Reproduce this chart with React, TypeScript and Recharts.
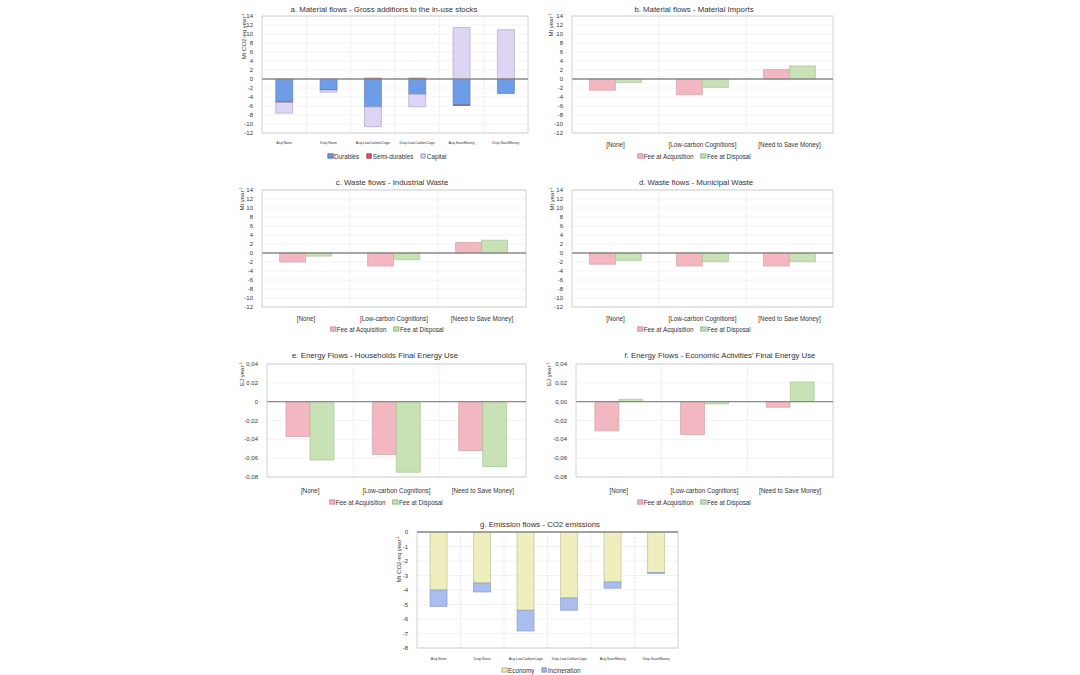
import React from 'react';
import { BarChart, Bar, XAxis, YAxis, CartesianGrid, ReferenceLine } from 'recharts';

const FONT = '"Liberation Sans", Arial, Helvetica, sans-serif';

// ---------- data ----------
const stockCategories = ['Acq.None', 'Disp.None', 'Acq.LowCarbonCogn', 'Disp.LowCarbonCogn', 'Acq.SaveMoney', 'Disp.SaveMoney'];
const durables = [-5.1, -2.4, -6.2, -3.4, -5.8, -3.25];
const semiDurables = [-0.1, -0.05, 0.2, 0.2, -0.05, 0.05];
const capital = [-2.4, -0.5, -4.4, -2.8, 11.45, 10.9];

const feeCategories = ['[None]', '[Low-carbon Cognitions]', '[Need to Save Money]'];
const importsAcq = [-2.5, -3.5, 2.1];
const importsDisp = [-0.8, -1.85, 2.9];
const industrialAcq = [-2.0, -2.9, 2.35];
const industrialDisp = [-0.7, -1.5, 2.85];
const municipalAcq = [-2.5, -2.9, -2.9];
const municipalDisp = [-1.65, -1.95, -1.95];
const householdAcq = [-0.037, -0.056, -0.052];
const householdDisp = [-0.062, -0.075, -0.069];
const economicAcq = [-0.031, -0.035, -0.006];
const economicDisp = [0.0025, -0.0025, 0.021];

const emissionCategories = stockCategories;
const economy = [-4.0, -3.52, -5.4, -4.55, -3.45, -2.8];
const incineration = [-1.13, -0.62, -1.43, -0.85, -0.43, -0.07];

const massTicks = [14, 12, 10, 8, 6, 4, 2, 0, -2, -4, -6, -8, -10, -12];
const energyTicks = [0.04, 0.02, 0, -0.02, -0.04, -0.06, -0.08];
const emissionTicks = [0, -1, -2, -3, -4, -5, -6, -7, -8];

// ---------- styles ----------
const C = {
  durables: { fill: '#6e9de8', stroke: '#5577b5' },
  semi: { fill: '#e0566a', stroke: '#b04050' },
  capital: { fill: '#ddd5f3', stroke: '#a79eb9' },
  acq: { fill: '#f3b7c1', stroke: '#c99aa2' },
  disp: { fill: '#c8e2b6', stroke: '#9dbd8c' },
  economy: { fill: '#efefbd', stroke: '#b3b393' },
  incin: { fill: '#a9bdef', stroke: '#8193c2' },
};

type Series = { key: string; name: string; values: number[]; fill: string; stroke: string };
type Rect = { left: number; top: number; right: number; bottom: number };

type PanelProps = {
  title: string;
  titleX: number;
  titleY: number;
  categories: string[];
  series: Series[];
  stacked?: boolean;
  plot: Rect;
  ticks: number[];
  tickFmt?: (v: number) => string;
  yLabel: string;
  yLabelX: number;
  yLabelTop: number;
  catFont: number;
  catMargin: number;
  gap: string;
  legendX: number;
  legendY: number;
};

const commaFmt = (digits: number, zeroPlain: boolean) => (v: number) => {
  if (Math.abs(v) < 1e-9) return zeroPlain ? '0' : (0).toFixed(digits).replace('.', ',');
  return v.toFixed(digits).replace('.', ',');
};

function Panel(p: PanelProps) {
  const mTop = 8;
  const mRight = 6;
  const xH = 18;
  const yAxisW = p.plot.left - p.yLabelX + 6;
  const plotW = p.plot.right - p.plot.left;
  const plotH = p.plot.bottom - p.plot.top;
  const width = yAxisW + plotW + mRight;
  const height = mTop + plotH + xH;
  const chartLeft = p.plot.left - yAxisW;
  const chartTop = p.plot.top - mTop;
  const n = p.categories.length;

  const data = p.categories.map((c, i) => {
    const row: Record<string, any> = { cat: c };
    p.series.forEach((s) => (row[s.key] = s.values[i]));
    return row;
  });

  const lx = p.yLabelX - chartLeft + 2;
  const ly = p.yLabelTop - chartTop;

  const yLabelContent = () => (
    <text
      x={lx}
      y={ly}
      transform={`rotate(-90, ${lx}, ${ly})`}
      textAnchor="end"
      fontSize={6}
      fill="#333"
      fontFamily={FONT}
    >
      {p.yLabel}
      <tspan fontSize={4} dy={-2.5}>-1</tspan>
    </text>
  );

  return (
    <>
      <div
        style={{
          position: 'absolute',
          left: p.titleX,
          top: p.titleY,
          transform: 'translate(-50%, -50%)',
          fontSize: 7.8,
          whiteSpace: 'nowrap',
          color: '#333',
          fontFamily: FONT,
        }}
      >
        {p.title}
      </div>
      <div style={{ position: 'absolute', left: chartLeft, top: chartTop }}>
        <BarChart
          width={width}
          height={height}
          data={data}
          margin={{ top: mTop, right: mRight, left: 0, bottom: 0 }}
          barCategoryGap={p.gap}
          barGap={0}
          stackOffset={p.stacked ? 'sign' : undefined}
          style={{ fontFamily: FONT }}
        >
          <CartesianGrid vertical={false} stroke="#f0f0f0" strokeWidth={0.8} />
          <CartesianGrid
            horizontal={false}
            stroke="#d4d4d4"
            strokeDasharray="1 1.5"
            strokeWidth={0.8}
            verticalCoordinatesGenerator={({ offset }: any) => {
              const out: number[] = [];
              for (let i = 1; i < n; i++) out.push(offset.left + (offset.width * i) / n);
              return out;
            }}
          />
          <CartesianGrid
            stroke="#c6c6c6"
            strokeWidth={0.8}
            horizontalCoordinatesGenerator={({ offset }: any) => [offset.top]}
            verticalCoordinatesGenerator={({ offset }: any) => [offset.left + offset.width]}
          />
          <XAxis
            dataKey="cat"
            interval={0}
            tickLine={false}
            axisLine={{ stroke: '#c6c6c6', strokeWidth: 0.8 }}
            tick={{ fontSize: p.catFont, fill: '#333' }}
            tickMargin={p.catMargin}
            height={xH}
          />
          <YAxis
            type="number"
            domain={[p.ticks[p.ticks.length - 1], p.ticks[0]]}
            ticks={p.ticks}
            interval={0}
            width={yAxisW}
            tickLine={false}
            axisLine={{ stroke: '#c6c6c6', strokeWidth: 0.8 }}
            tick={{ fontSize: 6, fill: '#333' }}
            tickMargin={3}
            tickFormatter={p.tickFmt}
            allowDataOverflow
            label={{ content: yLabelContent } as any}
          />
          {p.series.map((s) => (
            <Bar
              key={s.key}
              dataKey={s.key}
              name={s.name}
              fill={s.fill}
              stroke={s.stroke}
              strokeWidth={0.6}
              stackId={p.stacked ? 'stack' : undefined}
              isAnimationActive={false}
            />
          ))}
          <ReferenceLine y={0} stroke="#8a8a8a" strokeWidth={1.4} />
        </BarChart>
      </div>
      <div
        style={{
          position: 'absolute',
          left: p.legendX,
          top: p.legendY,
          transform: 'translate(-50%, -50%)',
          display: 'flex',
          gap: 7,
          fontSize: 6.3,
          color: '#333',
          fontFamily: FONT,
          whiteSpace: 'nowrap',
          alignItems: 'center',
        }}
      >
        {p.series.map((s) => (
          <div key={s.key} style={{ display: 'flex', alignItems: 'center', gap: 1 }}>
            <span
              style={{
                display: 'inline-block',
                width: 3.5,
                height: 3.5,
                background: s.fill,
                border: `0.5px solid ${s.stroke}`,
              }}
            />
            <span>{s.name}</span>
          </div>
        ))}
      </div>
    </>
  );
}

const feeSeries = (acq: number[], disp: number[]): Series[] => [
  { key: 'acq', name: 'Fee at Acquisition', values: acq, ...C.acq },
  { key: 'disp', name: 'Fee at Disposal', values: disp, ...C.disp },
];

export default function App() {
  return (
    <div
      style={{
        position: 'absolute',
        left: 0,
        top: 0,
        width: 1080,
        height: 675,
        background: '#fff',
        fontFamily: FONT,
        overflow: 'hidden',
      }}
    >
      <Panel
        title="a. Material flows - Gross additions to the in-use stocks"
        titleX={384}
        titleY={9}
        categories={stockCategories}
        series={[
          { key: 'dur', name: 'Durables', values: durables, ...C.durables },
          { key: 'semi', name: 'Semi-durables', values: semiDurables, ...C.semi },
          { key: 'cap', name: 'Capital', values: capital, ...C.capital },
        ]}
        stacked
        plot={{ left: 262, top: 16, right: 528, bottom: 133 }}
        ticks={massTicks}
        yLabel="Mt CO2-eq year"
        yLabelX={244}
        yLabelTop={13}
        catFont={3.6}
        catMargin={2.5}
        gap="31%"
        legendX={387}
        legendY={156}
      />
      <Panel
        title="b. Material flows - Material Imports"
        titleX={694}
        titleY={9}
        categories={feeCategories}
        series={feeSeries(importsAcq, importsDisp)}
        plot={{ left: 572, top: 16, right: 833, bottom: 133 }}
        ticks={massTicks}
        yLabel="Mt year"
        yLabelX={551}
        yLabelTop={13}
        catFont={6.3}
        catMargin={3.5}
        gap="20%"
        legendX={694}
        legendY={156}
      />
      <Panel
        title="c. Waste flows - Industrial Waste"
        titleX={392}
        titleY={182}
        categories={feeCategories}
        series={feeSeries(industrialAcq, industrialDisp)}
        plot={{ left: 262, top: 190, right: 526, bottom: 307 }}
        ticks={massTicks}
        yLabel="Mt year"
        yLabelX={242}
        yLabelTop={187}
        catFont={6.3}
        catMargin={3.5}
        gap="20%"
        legendX={387}
        legendY={329}
      />
      <Panel
        title="d. Waste flows - Municipal Waste"
        titleX={696}
        titleY={182}
        categories={feeCategories}
        series={feeSeries(municipalAcq, municipalDisp)}
        plot={{ left: 572, top: 190, right: 833, bottom: 307 }}
        ticks={massTicks}
        yLabel="Mt year"
        yLabelX={552}
        yLabelTop={187}
        catFont={6.3}
        catMargin={3.5}
        gap="20%"
        legendX={694}
        legendY={329}
      />
      <Panel
        title="e. Energy Flows - Households Final Energy Use"
        titleX={375}
        titleY={355}
        categories={feeCategories}
        series={feeSeries(householdAcq, householdDisp)}
        plot={{ left: 267, top: 364, right: 526, bottom: 477 }}
        ticks={energyTicks}
        tickFmt={commaFmt(2, true)}
        yLabel="EJ year"
        yLabelX={242}
        yLabelTop={362}
        catFont={6.3}
        catMargin={5.5}
        gap="22%"
        legendX={386}
        legendY={502}
      />
      <Panel
        title="f. Energy Flows - Economic Activities' Final Energy Use"
        titleX={720}
        titleY={355}
        categories={feeCategories}
        series={feeSeries(economicAcq, economicDisp)}
        plot={{ left: 576, top: 364, right: 833, bottom: 477 }}
        ticks={energyTicks}
        tickFmt={commaFmt(2, false)}
        yLabel="EJ year"
        yLabelX={549}
        yLabelTop={362}
        catFont={6.3}
        catMargin={5.5}
        gap="22%"
        legendX={694}
        legendY={502}
      />
      <Panel
        title="g. Emission flows - CO2 emissions"
        titleX={540}
        titleY={524}
        categories={emissionCategories}
        series={[
          { key: 'eco', name: 'Economy', values: economy, ...C.economy },
          { key: 'inc', name: 'Incineration', values: incineration, ...C.incin },
        ]}
        stacked
        plot={{ left: 417, top: 532, right: 678, bottom: 648 }}
        ticks={emissionTicks}
        yLabel="Mt CO2-eq year"
        yLabelX={399}
        yLabelTop={536}
        catFont={3.6}
        catMargin={3}
        gap="30%"
        legendX={541}
        legendY={670}
      />
    </div>
  );
}
